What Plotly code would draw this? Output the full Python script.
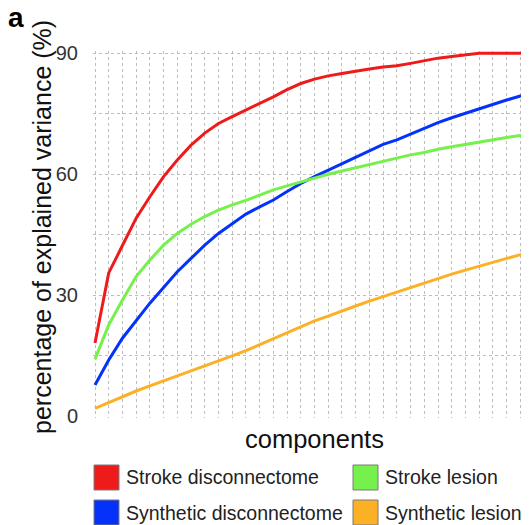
import plotly.graph_objects as go

# ---------------- data ----------------
components = list(range(1, 34))

stroke_disconnectome = [18.1, 35.5, 42.3, 49.1, 54.4, 59.4, 63.5, 67.2, 70.2, 72.6, 74.3, 75.9,
                        77.5, 79.2, 81.0, 82.5, 83.6, 84.4, 85.0, 85.6, 86.1, 86.6, 86.9, 87.5,
                        88.2, 88.8, 89.2, 89.6, 90.0, 90.0, 90.0, 90.0, 90.0]
synthetic_disconnectome = [7.7, 13.9, 19.3, 23.8, 28.0, 31.9, 35.8, 39.1, 42.4, 45.3, 47.8, 50.1,
                           51.9, 53.6, 55.7, 57.7, 59.4, 61.0, 62.7, 64.3, 66.0, 67.4, 68.5, 69.9,
                           71.4, 72.8, 74.0, 75.1, 76.3, 77.3, 78.4, 79.4, 80.3]
stroke_lesion = [14.1, 22.6, 28.8, 34.6, 38.7, 42.4, 45.3, 47.6, 49.5, 51.1, 52.4, 53.5,
                 54.8, 56.1, 57.1, 58.1, 59.1, 60.0, 60.8, 61.6, 62.4, 63.2, 63.9, 64.8,
                 65.4, 66.2, 66.8, 67.4, 67.9, 68.5, 69.1, 69.6, 70.1]
synthetic_lesion = [1.9, 3.4, 4.8, 6.2, 7.5, 8.7, 9.9, 11.2, 12.4, 13.6, 14.9, 16.2,
                    17.7, 19.3, 20.8, 22.2, 23.6, 24.8, 26.1, 27.3, 28.5, 29.6, 30.8, 31.9,
                    33.1, 34.2, 35.2, 36.2, 37.2, 38.1, 39.1, 40.1, 41.0]

series_names = ["Stroke disconnectome", "Synthetic disconnectome", "Stroke lesion", "Synthetic lesion"]
series_values = [stroke_disconnectome, synthetic_disconnectome, stroke_lesion, synthetic_lesion]
series_colors = ["#EF1A1A", "#0432FA", "#76F04C", "#FCB025"]

y_tick_vals = [0, 15, 30, 45, 60, 75, 90]
y_tick_text = ["0", "", "30", "", "60", "", "90"]

# ---------------- layout geometry ----------------
# page pixels (window 529x525); the page body adds an 8px offset
OFF = 8
PAGE_W, PAGE_H = 529, 525
FW, FH = PAGE_W - OFF, PAGE_H - OFF
L, R, T, B = 93, 529, 51, 418          # plot area in page pixels
W, H = R - L, B - T
FONT = "Liberation Sans, Arial, Helvetica, sans-serif"


def px(xp):
    return (xp - L) / W


def py(yp):
    return (B - yp) / H


fig = go.Figure()
for name, vals, col in zip(series_names, series_values, series_colors):
    fig.add_trace(go.Scatter(x=components, y=vals, name=name, mode="lines",
                             line=dict(color=col, width=3), showlegend=False))

# custom legend (2x2 grid of squares + labels)
legend_cells = [(94, 477.5), (94, 512.5), (353, 477.5), (353, 512.5)]
shapes = []
annotations = []
for (x0, yc), name, col in zip(legend_cells, series_names, series_colors):
    shapes.append(dict(type="rect", xref="paper", yref="paper",
                       x0=px(x0), x1=px(x0 + 25), y0=py(yc + 12.5), y1=py(yc - 12.5),
                       fillcolor=col, line=dict(color="#7a7a7a", width=1)))
    annotations.append(dict(text=name, xref="paper", yref="paper", x=px(x0 + 30), y=py(yc),
                            xanchor="left", yanchor="middle", showarrow=False,
                            font=dict(family=FONT, size=19.5, color="#222222")))

annotations.append(dict(text="components", xref="paper", yref="paper", x=px(314), y=py(439),
                        xanchor="center", yanchor="middle", showarrow=False,
                        font=dict(family=FONT, size=25.5, color="#111111")))
annotations.append(dict(text="percentage of explained variance (%)", xref="paper", yref="paper",
                        x=px(42), y=py(227), xanchor="center", yanchor="middle", textangle=-90,
                        showarrow=False, font=dict(family=FONT, size=25, color="#111111")))
annotations.append(dict(text="<b>a</b>", xref="paper", yref="paper", x=px(6), y=py(18),
                        xanchor="left", yanchor="middle", showarrow=False,
                        font=dict(family=FONT, size=28, color="#000000")))

fig.update_layout(
    width=FW, height=FH,
    margin=dict(l=L - OFF, r=PAGE_W - R, t=T - OFF, b=PAGE_H - B, pad=0),
    paper_bgcolor="white", plot_bgcolor="white",
    shapes=shapes, annotations=annotations,
    font=dict(family=FONT),
    xaxis=dict(range=[1 - 2 / 13.72, 1 + (R - 95) / 13.72], tick0=1, dtick=1,
               showticklabels=False, ticks="", showline=False, zeroline=False,
               showgrid=True, gridcolor="#bdbdbd", gridwidth=1, griddash="dot"),
    yaxis=dict(range=[-2 / 4.03, (416 - T) / 4.03], tickmode="array",
               tickvals=y_tick_vals, ticktext=y_tick_text, ticks="", ticklabelstandoff=14,
               tickfont=dict(family=FONT, size=20, color="#333333"),
               showline=False, zeroline=True, zerolinecolor="white", zerolinewidth=1,
               showgrid=True, gridcolor="#bdbdbd", gridwidth=1, griddash="dot"),
)

fig.write_html("out.html")
